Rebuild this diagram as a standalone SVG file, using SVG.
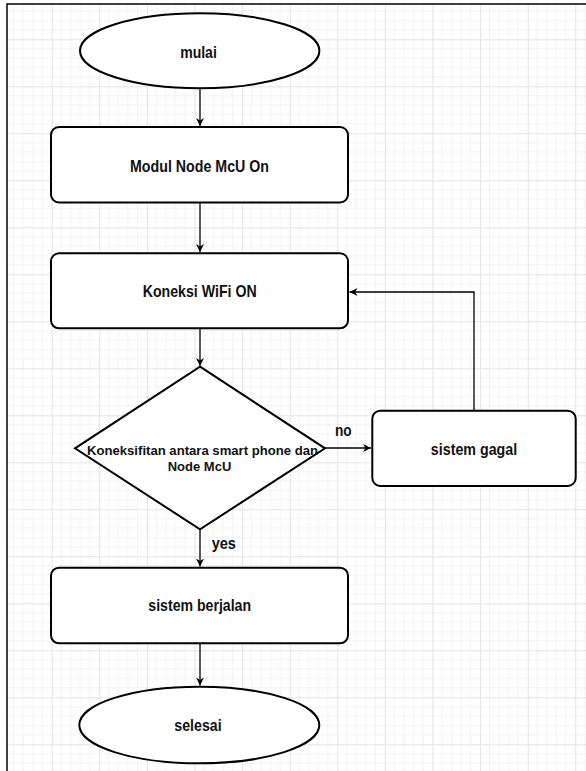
<svg xmlns="http://www.w3.org/2000/svg" width="586" height="771" viewBox="0 0 586 771">
  <defs>
    <pattern id="grid" patternUnits="userSpaceOnUse" x="51.7" y="39.3" width="47.6" height="47">
      <path d="M9.52 0V47M19.04 0V47M28.56 0V47M38.08 0V47M0 9.4H47.6M0 18.8H47.6M0 28.2H47.6M0 37.6H47.6" stroke="#f2f2f2" stroke-width="1" fill="none"/>
      <path d="M0.5 0V47M0 0.5H47.6" stroke="#e3e3e3" stroke-width="1" fill="none"/>
    </pattern>
    <marker id="arrow" viewBox="0 0 10 10" refX="10" refY="5" markerWidth="8" markerHeight="8" markerUnits="userSpaceOnUse" orient="auto">
      <path d="M0 0 L10 5 L0 10 L3 5 Z" fill="#000"/>
    </marker>
  </defs>
  <style>
    .shape { fill: #fff; stroke: #000; stroke-width: 2; }
    .lbl { font-family: "Liberation Sans", Arial, sans-serif; font-weight: bold; font-size: 17px; fill: #111; text-anchor: middle; }
    .dlbl { font-family: "Liberation Sans", Arial, sans-serif; font-weight: bold; font-size: 13px; fill: #111; text-anchor: middle; }
    .conn { fill: none; stroke: #000; stroke-width: 1.3; marker-end: url(#arrow); }
  </style>
  <rect x="0" y="0" width="586" height="771" fill="#fff"/>
  <rect x="7" y="4" width="579" height="767" fill="url(#grid)"/>
  <path d="M7 771V4H586" fill="none" stroke="#000" stroke-width="1.5"/>

  <g id="connectors">
    <path class="conn" d="M200 88.5V126"/>
    <path class="conn" d="M200 203V252"/>
    <path class="conn" d="M200 329V366"/>
    <path class="conn" d="M325 448H371"/>
    <path class="conn" d="M474 410V292H349.5"/>
    <path class="conn" d="M200 530V566.5"/>
    <path class="conn" d="M200 644V685.5"/>
    <text class="lbl" x="343.3" y="436" textLength="16.7" lengthAdjust="spacingAndGlyphs">no</text>
    <text class="lbl" x="223.8" y="549" textLength="24.3" lengthAdjust="spacingAndGlyphs">yes</text>
  </g>

  <g id="mulai">
    <ellipse class="shape" cx="199.7" cy="50.8" rx="119.7" ry="37.5"/>
    <text class="lbl" x="198.5" y="58" textLength="36.7" lengthAdjust="spacingAndGlyphs">mulai</text>
  </g>
  <g id="modul">
    <rect class="shape" x="51" y="127" width="297" height="75.5" rx="8"/>
    <text class="lbl" x="199.5" y="171.5" textLength="139" lengthAdjust="spacingAndGlyphs">Modul Node McU On</text>
  </g>
  <g id="wifi">
    <rect class="shape" x="51" y="253.3" width="297" height="75" rx="8"/>
    <text class="lbl" x="199.7" y="297.3" textLength="114" lengthAdjust="spacingAndGlyphs">Koneksi WiFi ON</text>
  </g>
  <g id="decision">
    <polygon class="shape" points="200,366.7 325,448.3 200,529.3 75,448.3"/>
    <text class="dlbl" x="202.5" y="454.5" textLength="231" lengthAdjust="spacingAndGlyphs">Koneksifitan antara smart phone dan</text>
    <text class="dlbl" x="199.5" y="470.5">Node McU</text>
  </g>
  <g id="gagal">
    <rect class="shape" x="372.3" y="410.7" width="203.4" height="75.3" rx="8"/>
    <text class="lbl" x="474" y="455" textLength="86.3" lengthAdjust="spacingAndGlyphs">sistem gagal</text>
  </g>
  <g id="berjalan">
    <rect class="shape" x="51" y="567.7" width="297" height="75.6" rx="8"/>
    <text class="lbl" x="199.7" y="611" textLength="102.7" lengthAdjust="spacingAndGlyphs">sistem berjalan</text>
  </g>
  <g id="selesai">
    <ellipse class="shape" cx="199.3" cy="725" rx="120" ry="38.3"/>
    <text class="lbl" x="198" y="731" textLength="47.3" lengthAdjust="spacingAndGlyphs">selesai</text>
  </g>
</svg>
